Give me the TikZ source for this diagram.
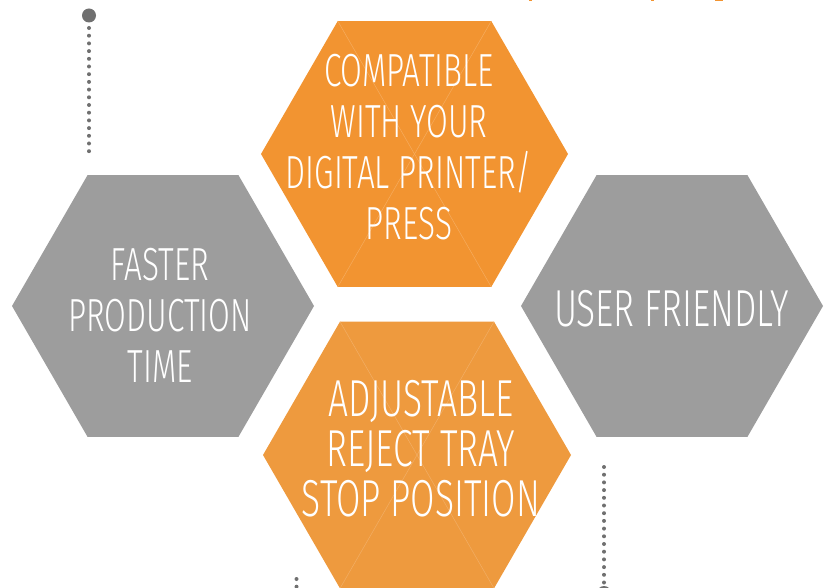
\documentclass[tikz,border=0pt]{standalone}
\usepackage{fontspec}
\usetikzlibrary{shapes.geometric}
\newfontfamily\hexfont{Fira Sans}[UprightFont={* Light}, FakeStretch=0.68]
\definecolor{orangeA}{HTML}{F29431}
\definecolor{orangeB}{HTML}{EE9A3E}
\definecolor{hexgray}{HTML}{9D9D9D}
\definecolor{dotgray}{HTML}{707070}
\definecolor{diagA}{HTML}{F6AC5E}
\definecolor{diagB}{HTML}{F2AE65}
\begin{document}
\begin{tikzpicture}[x=1pt,y=-1pt,
  hexshape/.style={regular polygon, regular polygon sides=6, inner sep=0pt, outer sep=0pt, draw=none},
  hexlabel/.style={text=white, align=center, inner sep=0pt, anchor=center},
  smalltext/.style={font=\hexfont\fontsize{46.4}{51}\selectfont},
  bigtext/.style={font=\hexfont\fontsize{52}{50}\selectfont},
  diag/.style={draw=#1, line width=0.5pt},
  dotline/.style={draw=dotgray, line width=4pt, line cap=round, dash pattern=on 0pt off 7.7pt},
  bigdot/.style={circle, fill=dotgray, inner sep=0pt, minimum size=14pt},
  frag/.style={fill=orangeA, draw=none, inner sep=0pt},
]
\useasboundingbox (0,0) rectangle (829,588);
% hexagons
\node[hexshape, fill=orangeA, minimum size=307pt] (top) at (414.5,154) {};
\node[hexshape, fill=hexgray, minimum size=302pt] (left) at (163,306) {};
\node[hexshape, fill=hexgray, minimum size=302pt] (right) at (672,306) {};
\node[hexshape, fill=orangeB, minimum size=308pt] (bottom) at (417,455) {};
% faint diagonals
\draw[diag=diagA] (top.120) -- (top.-60);
\draw[diag=diagA] (top.60) -- (top.240);
\draw[diag=diagB] (bottom.120) -- (bottom.-60);
\draw[diag=diagB] (bottom.60) -- (bottom.240);
% labels
\node[hexlabel, smalltext] (ttop) at (409,147.5) {COMPATIBLE\\WITH YOUR\\DIGITAL PRINTER/\\PRESS};
\node[hexlabel, smalltext] (tleft) at (160,315) {FASTER\\PRODUCTION\\TIME};
\node[hexlabel, bigtext] (tright) at (671.5,308.5) {USER FRIENDLY};
\node[hexlabel, bigtext] (tbottom) at (421,448.5) {ADJUSTABLE\\REJECT TRAY\\STOP POSITION};
% dotted leaders
\node[bigdot] (d1) at (89,15.5) {};
\coordinate (d1a) at (89,28);
\coordinate (d1b) at (89,155);
\draw[dotline] (d1a) -- (d1b);
\node[bigdot] (d2) at (604,593) {};
\coordinate (d2a) at (604,467);
\coordinate (d2b) at (604,583);
\draw[dotline] (d2a) -- (d2b);
\coordinate (d3a) at (296.5,579);
\coordinate (d3b) at (296.5,594);
\draw[dotline] (d3a) -- (d3b);
% clipped orange text fragments at top right
\node[frag, minimum width=3pt, minimum height=2pt] (f1) at (530,0.5) {};
\node[frag, minimum width=3pt, minimum height=2pt] (f2) at (652,0.5) {};
\node[frag, minimum width=8pt, minimum height=2pt] (f3) at (719,0.5) {};
\end{tikzpicture}
\end{document}
